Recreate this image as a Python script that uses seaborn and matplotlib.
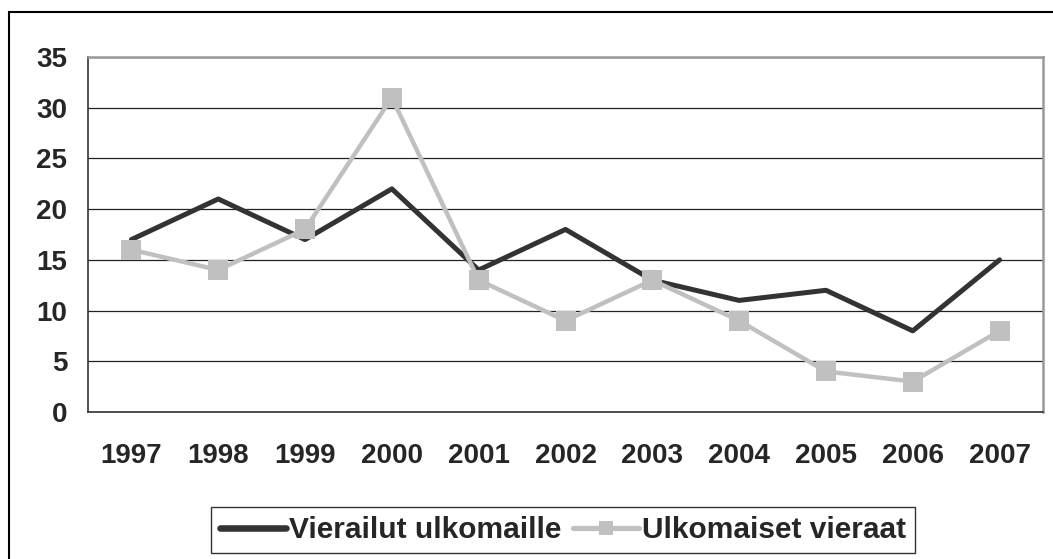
import numpy as np
import pandas as pd
import matplotlib.pyplot as plt
import seaborn as sns
from matplotlib.patches import Rectangle
from matplotlib.lines import Line2D

years = ["1997", "1998", "1999", "2000", "2001", "2002", "2003", "2004", "2005", "2006", "2007"]
vierailut = [17, 21, 17, 22, 14, 18, 13, 11, 12, 8, 15]
ulkomaiset = [16, 14, 18, 31, 13, 9, 13, 9, 4, 3, 8]
names = ["Vierailut ulkomaille", "Ulkomaiset vieraat"]

sns.set_style("white")
plt.rcParams['font.family'] = ['Liberation Sans', 'DejaVu Sans']
plt.rcParams['font.weight'] = 'bold'

df = pd.DataFrame({"pos": range(len(years)), names[0]: vierailut, names[1]: ulkomaiset})

fig = plt.figure(figsize=(10.53, 5.59), dpi=100)
ax = fig.add_axes([88/1053, 1 - 412/559, (1043 - 88)/1053, (412 - 57)/559])

sns.lineplot(data=df, x="pos", y=names[0], ax=ax, color="#333333", linewidth=3.6, label=None)
sns.lineplot(data=df, x="pos", y=names[1], ax=ax, color="#c0c0c0", linewidth=3.2,
             marker="s", markersize=15, markeredgewidth=0, label=None)

ax.set_xlim(-0.5, len(years) - 0.5)
ax.set_ylim(0, 35)
ax.set_yticks(range(0, 36, 5))
ax.set_xticks(range(len(years)))
ax.set_xticklabels(years)
ax.set_xticks(np.arange(0.5, len(years) - 0.5, 1), minor=True)
ax.tick_params(axis="x", which="major", length=0, pad=22, labelsize=20)
ax.tick_params(axis="x", which="minor", direction="in", length=7, width=1, color="#333333")
ax.tick_params(axis="y", length=0, pad=15, labelsize=20)
ax.set_xlabel("")
ax.set_ylabel("")
ax.yaxis.grid(True, color="#222222", linewidth=0.9)
ax.set_axisbelow(True)
for s in ["left", "bottom"]:
    ax.spines[s].set_color("#333333")
    ax.spines[s].set_linewidth(1.2)
for s in ["top", "right"]:
    ax.spines[s].set_color("#999999")
    ax.spines[s].set_linewidth(1.8)
if ax.get_legend():
    ax.get_legend().remove()

# outer chart frame (cropped at right and bottom)
fig.patches.append(Rectangle((9/1053, -0.05), 1.2, 1 - 12/559 + 0.05, transform=fig.transFigure,
                             fill=False, edgecolor="black", linewidth=1.5))

handles = [Line2D([], [], color="#333333", linewidth=4.7, solid_capstyle="round"),
           Line2D([], [], color="#c0c0c0", linewidth=3.8, marker="s", markersize=9.5,
                  markeredgewidth=0, solid_capstyle="round")]
leg = fig.legend(handles, names, loc="center", bbox_to_anchor=(563/1053, 1 - 530/559), ncol=2,
                 frameon=True, fancybox=False, edgecolor="black", fontsize=21.5,
                 handlelength=2.2, handletextpad=0.1, columnspacing=0.4, borderpad=0.3,
                 borderaxespad=0)
leg.get_frame().set_linewidth(1.0)

fig.savefig("out.png", dpi=100)
